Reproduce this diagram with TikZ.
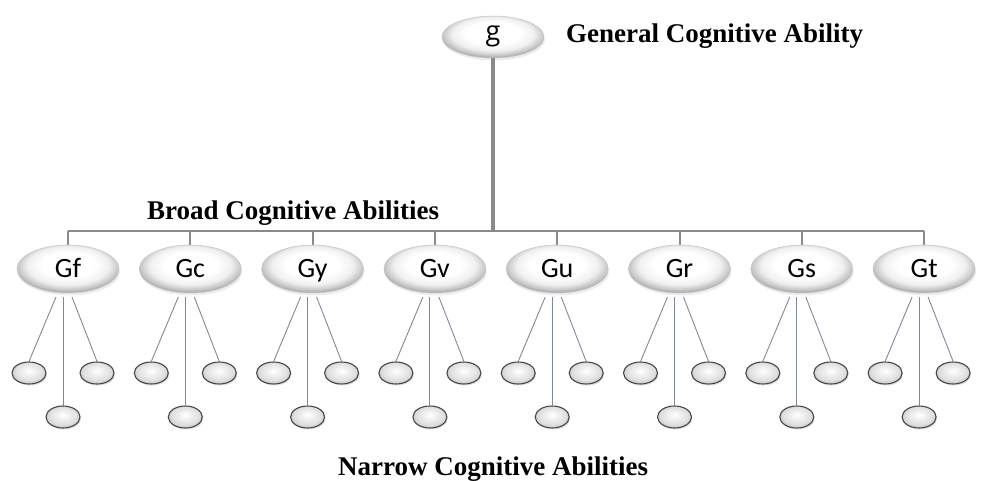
\documentclass[tikz,border=0pt]{standalone}
\usepackage{fontspec}
\setmainfont{Liberation Serif}
\newfontfamily\calib{Carlito}
\newfontfamily\opsans{Open Sans}
\usetikzlibrary{shapes.geometric,shadows,calc}
\definecolor{treegray}{HTML}{8A8A8A}
\definecolor{slate}{HTML}{7D8A9A}
\pgfdeclareradialshading{bigell}{\pgfpoint{0bp}{6bp}}{%
  color(0bp)=(white); color(13bp)=(white); color(20bp)=(gray!12);
  color(24bp)=(gray!40); color(27bp)=(gray!65); color(50bp)=(gray!65)}
\pgfdeclareradialshading{smallell}{\pgfpoint{0bp}{5bp}}{%
  color(0bp)=(white); color(8bp)=(gray!10); color(20bp)=(gray!25);
  color(26bp)=(gray!40); color(50bp)=(gray!40)}
\tikzset{
  broad/.style={ellipse, minimum width=102pt, minimum height=48pt, inner sep=0pt,
    draw=gray!45, line width=0.5pt, shading=bigell,
    text height=18pt, text depth=0pt,
    font=\calib\fontsize{28}{32}\selectfont,
    drop shadow={opacity=0.15, shadow xshift=1pt, shadow yshift=-2.5pt}},
  narrow/.style={ellipse, minimum width=34pt, minimum height=22pt, inner sep=0pt,
    draw=black!72, line width=1.1pt, shading=smallell,
    drop shadow={opacity=0.25, shadow xshift=1pt, shadow yshift=-1.5pt}},
  topnode/.style={broad, minimum height=42pt, text height=13pt, text depth=6pt,
    font=\opsans\fontsize{27}{30}\selectfont},
  heading/.style={anchor=base west, inner sep=0pt, font=\bfseries\fontsize{27}{32}\selectfont},
  trunk/.style={treegray, line width=3.5pt},
  bar/.style={treegray, line width=2.5pt},
  drop/.style={treegray, line width=2pt},
  twig/.style={slate, line width=0.9pt}
}
\begin{document}
\begin{tikzpicture}[x=1pt,y=-1pt]
\path[use as bounding box] (0,0) rectangle (986,481);
\coordinate (barL) at (68,231);
\foreach \n [count=\i from 0] in {Gf,Gc,Gy,Gv,Gu,Gr,Gs,Gt} {
  \pgfmathsetmacro\xx{68+122.3*\i}
  \coordinate (\n-top) at (\xx,246);
  \coordinate (\n-bar) at (\xx,231);
  \coordinate (\n-sl) at (\xx-12,297);
  \coordinate (\n-sm) at (\xx-5,297);
  \coordinate (\n-sr) at (\xx+4,297);
  \node[narrow] (\n-l) at (\xx-39,373) {};
  \node[narrow] (\n-r) at (\xx+29,373) {};
  \node[narrow] (\n-b) at (\xx-5,417) {};
  \draw[twig] (\n-sl) -- (\n-l.north);
  \draw[twig] (\n-sm) -- (\n-b.north);
  \draw[twig] (\n-sr) -- (\n-r.north);
  \draw[drop] (\n-bar) -- (\n-top);
  \node[broad] (\n) at (\xx,269) {\n};
}
\node[topnode] (g) at (493,37) {g};
\draw[trunk] (g.south) -- (g.south |- barL);
\draw[bar] (Gf-bar) -- (Gt-bar);
\node[heading] (lg) at (566,43) {General Cognitive Ability};
\node[heading] (lb) at (147,220) {Broad Cognitive Abilities};
\node[heading] (ln) at (338,475) {Narrow Cognitive Abilities};
\end{tikzpicture}
\end{document}
